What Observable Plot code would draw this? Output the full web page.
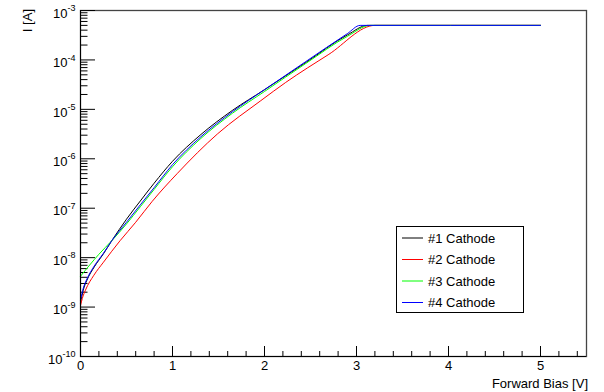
<!DOCTYPE html>
<html><head><meta charset="utf-8">
<script src="https://cdn.jsdelivr.net/npm/d3@7"></script>
<script src="https://cdn.jsdelivr.net/npm/@observablehq/plot@0.6"></script>
<style>body{margin:0;background:#fff}</style>
</head><body><div id="chart"></div>
<script>
// ---- data ----
const seriesNames = ["#1 Cathode", "#2 Cathode", "#3 Cathode", "#4 Cathode"];
const seriesColors = ["#000000", "#ff0000", "#00ff00", "#0000ff"];

const bias1 = [0, 0.03, 0.07, 0.15, 0.25, 0.34, 0.5, 0.65, 0.8, 1.0, 1.3, 1.65, 2.0, 2.45, 2.9, 3.12, 5.0];
const curr1 = [1.2e-9, 2.2e-9, 3.5e-9, 6.5e-9, 1.2e-8, 2.2e-8, 6.0e-8, 1.4e-7, 3.2e-7, 8.9e-7, 3.0e-6, 9.5e-6, 2.5e-5, 8.9e-5, 3.2e-4, 5.0e-4, 5.0e-4];

const bias2 = [0, 0.02, 0.054, 0.145, 0.25, 0.43, 0.6, 0.78, 1.05, 1.49, 1.96, 2.23, 2.7, 3.2, 5.0];
const curr2 = [1.07e-9, 1.5e-9, 2.2e-9, 4.4e-9, 8.1e-9, 2.2e-8, 5.2e-8, 1.38e-7, 5.0e-7, 3.2e-6, 1.5e-5, 3.5e-5, 1.3e-4, 5.0e-4, 5.0e-4];

const bias3 = [0, 0.1, 0.2, 0.34, 0.5, 0.65, 0.8, 1.0, 1.3, 1.65, 2.0, 2.45, 2.9, 3.15, 5.0];
const curr3 = [4.2e-9, 7.1e-9, 1.17e-8, 2.2e-8, 4.8e-8, 1.07e-7, 2.4e-7, 6.9e-7, 2.5e-6, 8.3e-6, 2.3e-5, 8.5e-5, 3.0e-4, 5.0e-4, 5.0e-4];

const bias4 = [0, 0.03, 0.07, 0.15, 0.25, 0.34, 0.5, 0.65, 0.8, 1.0, 1.3, 1.65, 2.0, 2.45, 2.9, 3.04, 5.0];
const curr4 = [1.4e-9, 2.4e-9, 3.7e-9, 6.8e-9, 1.23e-8, 2.2e-8, 5.2e-8, 1.17e-7, 2.6e-7, 7.6e-7, 2.7e-6, 8.9e-6, 2.5e-5, 9.3e-5, 3.4e-4, 5.0e-4, 5.0e-4];

const xTickLabels = [0, 1, 2, 3, 4, 5];
const yTickExponents = [-10, -9, -8, -7, -6, -5, -4, -3];
const xLabel = "Forward Bias [V]";
const yLabel = "I [A]";

// ---- derived tables ----
const biasSets = [bias1, bias2, bias3, bias4];
const currSets = [curr1, curr2, curr3, curr4];
const rows = biasSets.map((b, s) => b.map((v, j) => ({v, i: currSets[s][j]})));

const xMinor = d3.range(1, 28).filter(k => k % 5 !== 0).map(k => k / 5);
const yMajor = yTickExponents.map(e => Math.pow(10, e));
const yMinor = [];
for (const e of yTickExponents.slice(0, -1)) for (let m = 2; m <= 9; m++) yMinor.push(m * Math.pow(10, e));

const W = 604, H = 392, mL = 80, mR = 18, mT = 10, mB = 36;
const iw = W - mL - mR, ih = H - mT - mB;
const FONT = "'Liberation Sans', Arial, sans-serif";

const chart = Plot.plot({
  width: W, height: H,
  marginLeft: mL, marginRight: mR, marginTop: mT, marginBottom: mB,
  style: {fontFamily: FONT, fontSize: "13px", background: "#fff", color: "#000"},
  x: {domain: [0, 5.5]},
  y: {type: "log", domain: [1e-10, 1e-3]},
  marks: [
    Plot.frame({stroke: "#444", strokeWidth: 1.3}),
    Plot.tickY(yMajor, {y: d => d, stroke: "#000", insetRight: iw - 15}),
    Plot.tickY(yMinor, {y: d => d, stroke: "#000", insetRight: iw - 7.5}),
    Plot.tickX(xTickLabels, {x: d => d, stroke: "#000", insetTop: ih - 10}),
    Plot.tickX(xMinor, {x: d => d, stroke: "#000", insetTop: ih - 5}),
    ...rows.map((r, s) => Plot.line(r, {x: "v", y: "i", stroke: seriesColors[s], strokeWidth: 1, curve: "monotone-x"})),
    Plot.ruleX([0], {stroke: "#000"}),
    Plot.ruleY([1e-10], {stroke: "#000"}),
    Plot.axisX(xTickLabels, {tickSize: 0, tickPadding: 4, tickFormat: d => String(d), label: null, fontSize: 13}),
    Plot.axisY(yMajor, {tickSize: 0, tickPadding: 5, dy: 3, tickFormat: d => "10^" + Math.round(Math.log10(d)), label: null, fontSize: 13})
  ]
});

document.getElementById("chart").appendChild(chart);
const svg = d3.select(chart);

// superscript exponents on y labels
svg.selectAll('g[aria-label="y-axis tick label"] text').each(function() {
  const t = this.textContent;
  const exp = t.split("^")[1];
  const el = d3.select(this);
  el.text(null);
  el.append("tspan").text("10");
  el.append("tspan").attr("dy", "-6.5").attr("font-size", "9").text(exp);
});

// axis titles
svg.append("text")
  .attr("x", 588).attr("y", 388)
  .attr("text-anchor", "end")
  .attr("font-family", FONT).attr("font-size", 13)
  .attr("fill", "#000")
  .text(xLabel);
svg.append("text")
  .attr("transform", "translate(32,9) rotate(-90)")
  .attr("text-anchor", "end")
  .attr("font-family", FONT).attr("font-size", 13)
  .attr("fill", "#000")
  .text(yLabel);

// legend
const lg = svg.append("g").attr("font-family", FONT).attr("font-size", 13).attr("text-anchor", "start");
lg.append("rect").attr("x", 396.5).attr("y", 226.5).attr("width", 127).attr("height", 86)
  .attr("fill", "#fff").attr("stroke", "#000").attr("stroke-width", 1);
seriesNames.forEach((name, s) => {
  const cy = 238 + s * 21.5;
  lg.append("line").attr("x1", 402).attr("x2", 423).attr("y1", cy).attr("y2", cy)
    .attr("stroke", seriesColors[s]).attr("stroke-width", 1);
  lg.append("text").attr("x", 428).attr("y", cy).attr("dy", "0.35em")
    .attr("text-anchor", "start").attr("fill", "#000").text(name);
});
</script>
</body></html>
